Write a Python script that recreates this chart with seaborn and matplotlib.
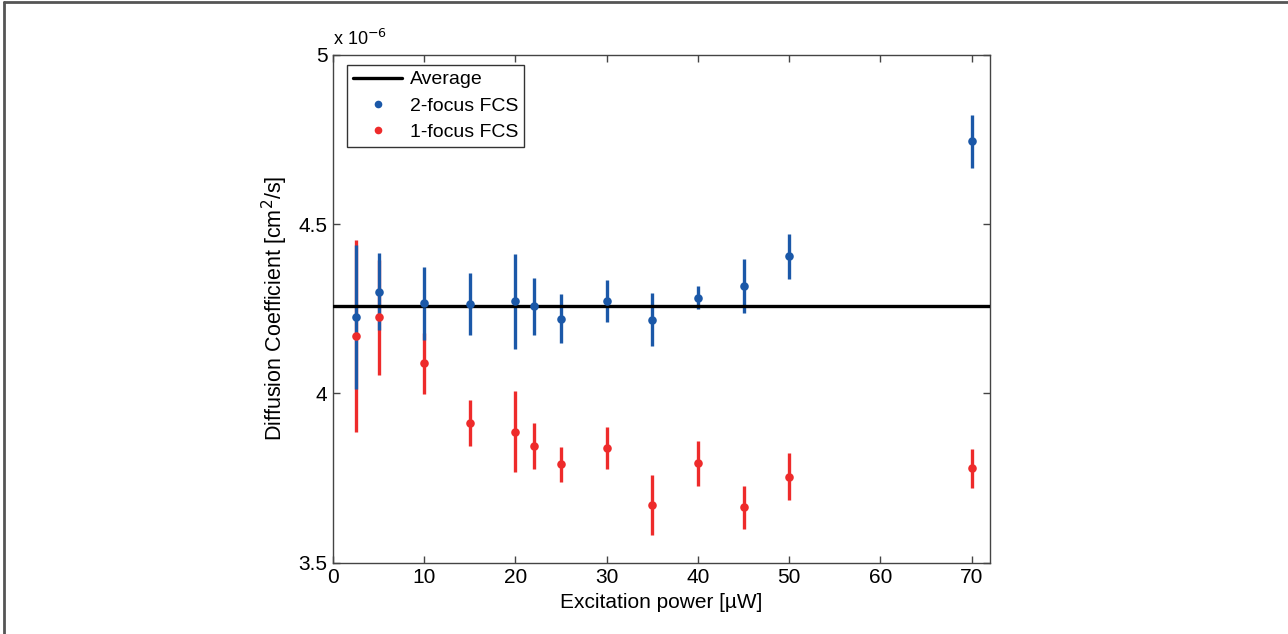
import matplotlib
matplotlib.use("Agg")
import matplotlib.pyplot as plt
from matplotlib.lines import Line2D
from matplotlib.ticker import FuncFormatter
import seaborn as sns
import pandas as pd

# Data (diffusion coefficient in units of 1e-6 cm^2/s)
power = [2.5, 5, 10, 15, 20, 22, 25, 30, 35, 40, 45, 50, 70]
two_focus = [4.226, 4.300, 4.266, 4.264, 4.272, 4.257, 4.220, 4.272, 4.218, 4.283, 4.317, 4.405, 4.744]
two_focus_err = [0.213, 0.113, 0.107, 0.091, 0.140, 0.084, 0.072, 0.062, 0.078, 0.035, 0.080, 0.067, 0.079]
one_focus = [4.170, 4.224, 4.089, 3.913, 3.887, 3.845, 3.790, 3.838, 3.671, 3.793, 3.663, 3.754, 3.779]
one_focus_err = [0.284, 0.170, 0.090, 0.068, 0.119, 0.068, 0.053, 0.062, 0.089, 0.067, 0.063, 0.069, 0.058]
average = 4.257

x_ticks = [0, 10, 20, 30, 40, 50, 60, 70]
y_ticks = [3.5, 4.0, 4.5, 5.0]

BLUE = "#1b58a8"
RED = "#ee2b2b"

sns.set_theme(style="white")
plt.rcParams["font.family"] = ["Liberation Sans", "DejaVu Sans"]
plt.rcParams["text.color"] = "black"
plt.rcParams["axes.labelcolor"] = "black"
plt.rcParams["xtick.color"] = "black"
plt.rcParams["ytick.color"] = "black"

df2 = pd.DataFrame({"power": power, "D": two_focus, "err": two_focus_err})
df1 = pd.DataFrame({"power": power, "D": one_focus, "err": one_focus_err})

fig = plt.figure(figsize=(12.88, 6.34), dpi=100)
ax = fig.add_axes([0.2585, 0.1125, 0.5101, 0.8012])

ax.errorbar(df1["power"], df1["D"], yerr=df1["err"], fmt="none", ecolor=RED,
            elinewidth=2.4, capsize=0, zorder=2)
ax.errorbar(df2["power"], df2["D"], yerr=df2["err"], fmt="none", ecolor=BLUE,
            elinewidth=2.4, capsize=0, zorder=2.1)
ax.axhline(average, color="black", lw=2.4, zorder=3)
sns.scatterplot(data=df2, x="power", y="D", color=BLUE, s=38, linewidth=0,
                ax=ax, zorder=4, legend=False)
sns.scatterplot(data=df1, x="power", y="D", color=RED, s=38, linewidth=0,
                ax=ax, zorder=4, legend=False)

ax.set_xlim(0, 72)
ax.set_ylim(3.5, 5.0)
ax.set_xticks(x_ticks)
ax.set_yticks(y_ticks)
ax.yaxis.set_major_formatter(FuncFormatter(lambda v, p: "%g" % v))

for s in ax.spines.values():
    s.set_color("#444444")
    s.set_linewidth(1.0)
ax.tick_params(axis="both", which="both", direction="in", length=5, width=1,
               color="#444444", top=True, right=True, bottom=True, left=True,
               labelsize=15, pad=4, labelcolor="black")

ax.set_xlabel("Excitation power [\u00b5W]", fontsize=15, labelpad=4, color="black")
ax.set_ylabel(r"Diffusion Coefficient [cm$^2$/s]", fontsize=15.5, labelpad=6, color="black")
ax.text(0.0, 1.012, r"x 10$^{-6}$", transform=ax.transAxes, fontsize=13,
        ha="left", va="bottom", color="black")

handles = [
    Line2D([0], [0], color="black", lw=2.4),
    Line2D([0], [0], color=BLUE, marker="o", ls="none", markersize=5.5, markeredgewidth=0),
    Line2D([0], [0], color=RED, marker="o", ls="none", markersize=5.5, markeredgewidth=0),
]
leg = ax.legend(handles, ["Average", "2-focus FCS", "1-focus FCS"], loc="upper left",
                bbox_to_anchor=(0.022, 0.98), fontsize=14, frameon=True, fancybox=False,
                handlelength=2.5, handletextpad=0.4, borderpad=0.3, labelspacing=0.45,
                borderaxespad=0)
leg.get_frame().set_edgecolor("black")
leg.get_frame().set_linewidth(1.0)
for t in leg.get_texts():
    t.set_color("black")

# figure frame (top and left edges)
fig.add_artist(Line2D([0.003, 0.003], [0, 0.997], transform=fig.transFigure,
                      color="#555555", lw=2))
fig.add_artist(Line2D([0.003, 1.0], [0.997, 0.997], transform=fig.transFigure,
                      color="#555555", lw=2))

fig.savefig("out.png", dpi=100)
